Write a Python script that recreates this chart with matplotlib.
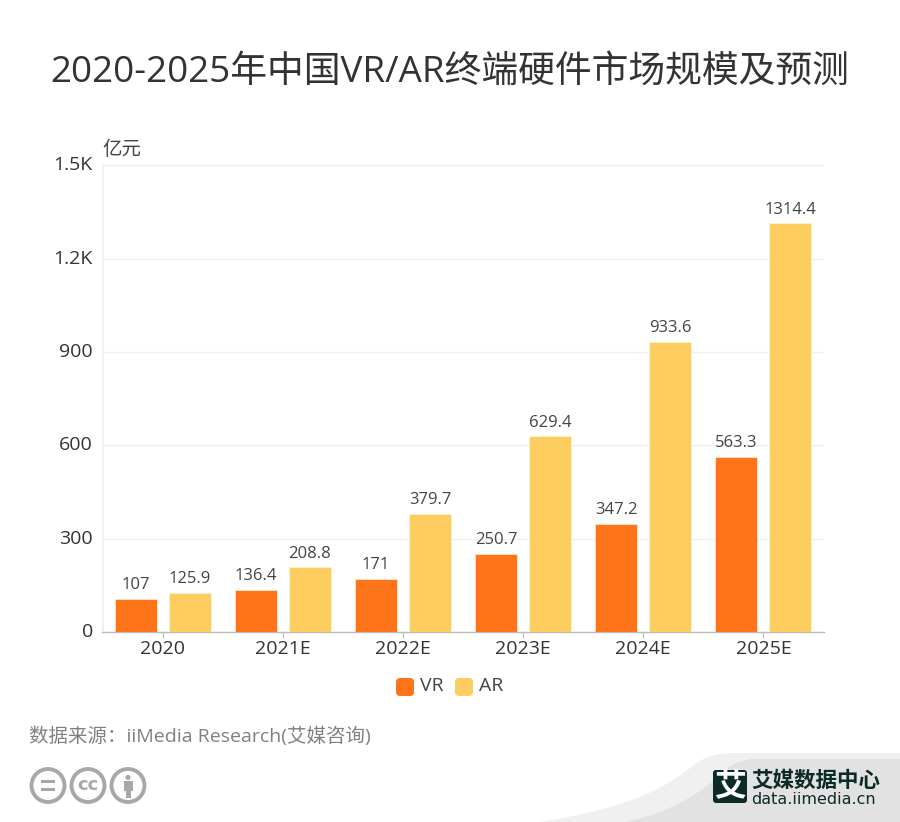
import matplotlib
matplotlib.use('Agg')
import matplotlib.pyplot as plt
from matplotlib.patches import Circle, Rectangle, PathPatch, FancyBboxPatch
from matplotlib.path import Path
from matplotlib.transforms import ScaledTranslation

plt.rcParams['font.family'] = ['Open Sans', 'Noto Sans CJK SC', 'DejaVu Sans']

categories = ['2020', '2021E', '2022E', '2023E', '2024E', '2025E']
vr_values = [107, 136.4, 171, 250.7, 347.2, 563.3]
ar_values = [125.9, 208.8, 379.7, 629.4, 933.6, 1314.4]
y_ticks = [0, 300, 600, 900, 1200, 1500]
y_tick_labels = ['0', '300', '600', '900', '1.2K', '1.5K']
title = '2020-2025年中国VR/AR终端硬件市场规模及预测'
source = '数据来源：iiMedia Research(艾媒咨询)'
unit = '亿元'

W, H = 900, 822
fig = plt.figure(figsize=(W / 100, H / 100), dpi=100, facecolor='white')

# Background overlay in pixel coordinates
bg = fig.add_axes([0, 0, 1, 1], zorder=0)
bg.set_xlim(0, W)
bg.set_ylim(H, 0)
bg.axis('off')

C = Path.CURVE4
swoosh_codes = [Path.MOVETO, C, C, C, C, C, C, Path.LINETO, Path.LINETO, Path.CLOSEPOLY]
outer = [(540, 822), (600, 812), (650, 800), (690, 768), (703, 757), (715, 753), (735, 753),
         (900, 753), (900, 822), (540, 822)]
inner = [(625, 822), (660, 815), (690, 800), (712, 782), (725, 770), (735, 759), (755, 759),
         (900, 759), (900, 822), (625, 822)]
bg.add_patch(PathPatch(Path(outer, swoosh_codes), fc='#f0f0f0', ec='none'))
bg.add_patch(PathPatch(Path(inner, swoosh_codes), fc='#e2e2e2', ec='none'))

ax = fig.add_axes([102.5 / W, 1 - 632 / H, (824 - 103) / W, (632 - 165.5) / H], zorder=1)
ax.patch.set_alpha(0)
xs = range(len(categories))
offset, width = 0.225, 0.35
orange, yellow = '#ff7419', '#fdcd60'
b1 = ax.bar([x - offset for x in xs], vr_values, width, color=orange, edgecolor='#ffe3d0',
            linewidth=0.6, label='VR', zorder=3)
b2 = ax.bar([x + offset for x in xs], ar_values, width, color=yellow, edgecolor='#fff0cf',
            linewidth=0.6, label='AR', zorder=3)
for bars, vals in ((b1, vr_values), (b2, ar_values)):
    ax.bar_label(bars, labels=[f'{v:g}' for v in vals], padding=4, fontsize=12,
                 color='#444444', zorder=4)

ax.set_xlim(-0.5, 5.5)
ax.set_ylim(0, 1500)
ax.set_xticks(list(xs), categories)
ax.tick_params(axis='x', which='major', length=4, width=0.8, color='#bbbbbb',
               labelsize=14, labelcolor='#333333', pad=2)
ax.set_yticks(y_ticks, y_tick_labels)
ax.tick_params(axis='y', length=0, labelsize=14, labelcolor='#333333', pad=7)
shift = ScaledTranslation(0, 1.5 / 72, fig.dpi_scale_trans)
for lab in ax.get_yticklabels():
    lab.set_transform(lab.get_transform() + shift)
ax.grid(axis='y', color='#f0f0f0', linewidth=1, zorder=0)
ax.set_axisbelow(True)
for s in ('top', 'right'):
    ax.spines[s].set_visible(False)
ax.spines['left'].set_color('#eeeeee')
ax.spines['left'].set_linewidth(1.2)
ax.spines['bottom'].set_color('#bbbbbb')
ax.spines['bottom'].set_linewidth(1)

# Title, unit, source
fig.text(450 / W, 1 - 73 / H, title, ha='center', va='center', fontsize=26.5, color='#333333')
fig.text(102 / W, 1 - 150 / H, unit, ha='left', va='center', fontsize=14, color='#444444')
fig.text(29 / W, 1 - 736 / H, source, ha='left', va='center', fontsize=14, color='#808080')

# Legend
for px, col, lab in ((396, orange, 'VR'), (455, yellow, 'AR')):
    bg.add_patch(FancyBboxPatch((px, 678), 18, 18, boxstyle='round,pad=0,rounding_size=4',
                                fc=col, ec='none'))
    bg.text(px + 24, 686, lab, ha='left', va='center', fontsize=14, color='#444444')

# Licence icons
grey = '#a8a8a8'
for cx in (48, 88, 128):
    bg.add_patch(Circle((cx, 785.5), 16.5, fc='white', ec=grey, lw=2.8))
bg.add_patch(Rectangle((41, 780), 14, 3, fc=grey, ec='none'))
bg.add_patch(Rectangle((41, 788), 14, 3, fc=grey, ec='none'))
bg.text(88, 785, 'cc', ha='center', va='center', fontsize=13, fontweight='bold', color=grey,
        family='DejaVu Sans')
bg.add_patch(Circle((128, 777.5), 2.6, fc=grey, ec='none'))
bg.add_patch(Rectangle((123.5, 781), 9, 10, fc=grey, ec='none'))
bg.add_patch(Rectangle((125.5, 790), 5, 7.5, fc=grey, ec='none'))

# Logo
dark = '#0c2b27'
bg.add_patch(FancyBboxPatch((713, 770), 34, 33, boxstyle='round,pad=0,rounding_size=3', fc=dark, ec='none'))
bg.text(730, 786, '艾', ha='center', va='center', fontsize=23, fontweight='bold', color='white',
        family='Noto Sans CJK SC')
bg.text(751, 780, '艾媒数据中心', ha='left', va='center', fontsize=15.5, fontweight='bold', color=dark,
        family='Noto Sans CJK SC')
bg.text(751, 799, 'data.iimedia.cn', ha='left', va='center', fontsize=11.5, color=dark,
        family='DejaVu Sans')

fig.savefig('out.png', dpi=100, facecolor='white')
